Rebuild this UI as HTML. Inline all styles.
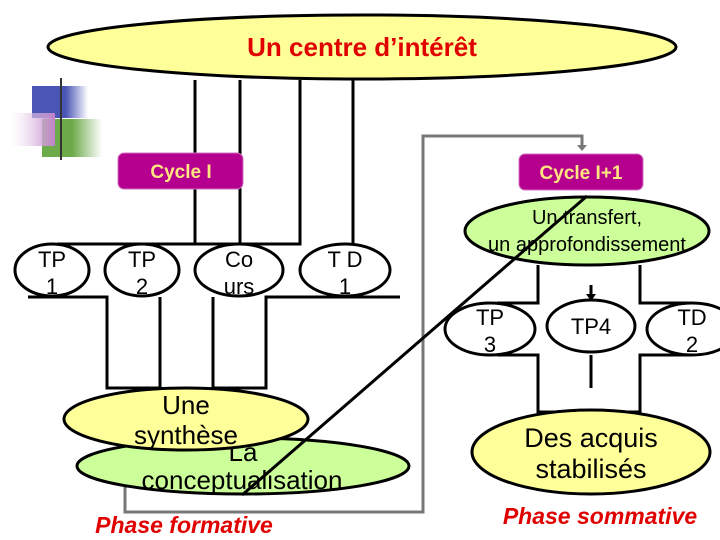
<!DOCTYPE html>
<html><head><meta charset="utf-8"><style>
body{margin:0;background:#fff}
svg{display:block}
text{font-family:"Liberation Sans",sans-serif}
</style></head><body>
<svg width="720" height="540" viewBox="0 0 720 540" xmlns="http://www.w3.org/2000/svg">
<defs>
<linearGradient id="gb" x1="0" x2="1"><stop offset="0.6" stop-color="#4a55b5"/><stop offset="1" stop-color="#4a55b5" stop-opacity="0"/></linearGradient>
<linearGradient id="gg" x1="0" x2="1"><stop offset="0.5" stop-color="#6caa4a"/><stop offset="1" stop-color="#6caa4a" stop-opacity="0"/></linearGradient>
<linearGradient id="gp" x1="0" x2="1"><stop offset="0" stop-color="#fff" stop-opacity="0.3"/><stop offset="1" stop-color="#c080c8"/></linearGradient>
<linearGradient id="gl" x1="0" x2="1"><stop offset="0" stop-color="#666"/><stop offset="0.6" stop-color="#999"/><stop offset="1" stop-color="#ddd" stop-opacity="0.2"/></linearGradient>
</defs>
<rect x="32" y="86" width="56" height="32" fill="url(#gb)"/>
<rect x="42" y="119" width="60" height="38" fill="url(#gg)"/>
<rect x="10" y="113" width="45" height="33" fill="url(#gp)"/>
<line x1="35" y1="141" x2="620" y2="141" stroke="url(#gl)" stroke-width="3"/>
<line x1="61" y1="78" x2="61" y2="160" stroke="#333" stroke-width="2"/>

<ellipse cx="362" cy="47" rx="314" ry="32" fill="#ffff99" stroke="#000" stroke-width="3"/>
<text x="362" y="56" text-anchor="middle" font-size="26" font-weight="bold" fill="#e00000">Un centre d’intérêt</text>

<g stroke="#000" stroke-width="3" fill="none">
<polyline points="195,80 195,244 300,244 300,80"/>
<line x1="240" y1="80" x2="240" y2="244"/>
<line x1="353" y1="80" x2="353" y2="244"/>
<line x1="57" y1="244" x2="195" y2="244"/>
<polyline points="28,297 107,297 107,388 160,388 160,297"/>
<polyline points="213,297 213,388 266,388 266,297 400,297"/>
<polyline points="497,303 538,303 538,265"/>
<polyline points="640,265 640,303 690,303"/>
<polyline points="497,355 538,355 538,412 640,412 640,355 690,355"/>
<line x1="591" y1="355" x2="591" y2="388"/>
<line x1="591" y1="285" x2="591" y2="298"/>
</g>
<polygon points="586,294 596,294 591,301" fill="#000"/>

<polyline points="125,487 125,512 423,512 423,136 582,136 582,146" fill="none" stroke="#777" stroke-width="3"/>
<polygon points="577,145 587,145 582,151" fill="#777"/>

<rect x="118" y="153" width="125" height="36" rx="6" fill="#b5008f" stroke="#d070c0"/>
<text x="181" y="178" text-anchor="middle" font-size="19" font-weight="bold" fill="#ffe680">Cycle I</text>
<rect x="519" y="154" width="124" height="36" rx="6" fill="#b5008f" stroke="#d070c0"/>
<text x="581" y="179" text-anchor="middle" font-size="19" font-weight="bold" fill="#ffe680">Cycle I+1</text>

<g fill="#fff" stroke="#000" stroke-width="3">
<ellipse cx="52" cy="270" rx="37" ry="26"/>
<ellipse cx="142" cy="270" rx="37" ry="26"/>
<ellipse cx="239" cy="270" rx="44" ry="26"/>
<ellipse cx="345" cy="270" rx="45" ry="26"/>
<ellipse cx="490" cy="329" rx="45" ry="26"/>
<ellipse cx="591" cy="326" rx="44" ry="26"/>
<ellipse cx="692" cy="329" rx="45" ry="26"/>
</g>
<g font-size="22" text-anchor="middle" fill="#000">
<text x="52" y="267">TP</text><text x="52" y="294">1</text>
<text x="142" y="267">TP</text><text x="142" y="294">2</text>
<text x="239" y="267">Co</text><text x="239" y="294">urs</text>
<text x="345" y="267">T D</text><text x="345" y="294">1</text>
<text x="490" y="325">TP</text><text x="490" y="352">3</text>
<text x="591" y="334">TP4</text>
<text x="692" y="325">TD</text><text x="692" y="352">2</text>
</g>

<ellipse cx="243" cy="466" rx="166" ry="28" fill="#ccff99" stroke="#000" stroke-width="3"/>
<text x="243" y="461" text-anchor="middle" font-size="26">La</text>
<ellipse cx="186" cy="419" rx="122" ry="31" fill="#ffff99" stroke="#000" stroke-width="3"/>
<text x="186" y="414" text-anchor="middle" font-size="26">Une</text>
<text x="186" y="444" text-anchor="middle" font-size="26">synthèse</text>
<text x="242" y="489" text-anchor="middle" font-size="26">conceptualisation</text>

<ellipse cx="587" cy="231" rx="122" ry="34" fill="#ccff99" stroke="#000" stroke-width="3"/>
<text x="587" y="224" text-anchor="middle" font-size="20">Un transfert,</text>
<text x="587" y="251" text-anchor="middle" font-size="20">un approfondissement</text>
<ellipse cx="591" cy="452" rx="119" ry="42" fill="#ffff99" stroke="#000" stroke-width="3"/>
<text x="591" y="447" text-anchor="middle" font-size="27">Des acquis</text>
<text x="591" y="478" text-anchor="middle" font-size="27">stabilisés</text>

<line x1="242" y1="495" x2="587" y2="196" stroke="#000" stroke-width="3"/>

<text x="184" y="533" text-anchor="middle" font-size="23" font-weight="bold" font-style="italic" fill="#e00000">Phase formative</text>
<text x="600" y="524" text-anchor="middle" font-size="23" font-weight="bold" font-style="italic" fill="#e00000">Phase sommative</text>
</svg>
</body></html>
